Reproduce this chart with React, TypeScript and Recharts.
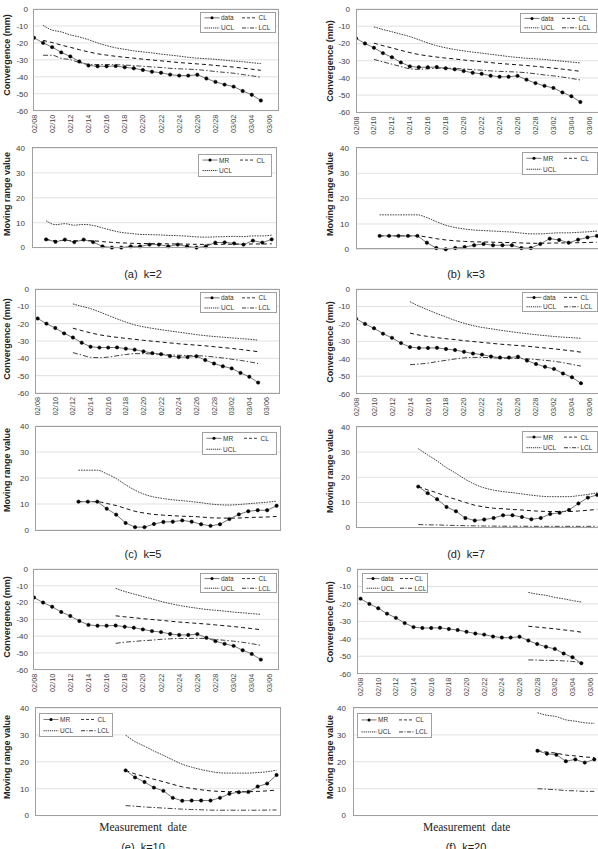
import React from 'react';
import { LineChart, Line, XAxis, YAxis, CartesianGrid } from 'recharts';

// ---------- data ----------
const dates = ['02/08','02/09','02/10','02/11','02/12','02/13','02/14','02/15','02/16','02/17','02/18','02/19','02/20','02/21','02/22','02/23','02/24','02/25','02/26','02/27','02/28','03/01','03/02','03/03','03/04','03/05'];
const dateTickLabels = ['02/08','02/10','02/12','02/14','02/16','02/18','02/20','02/22','02/24','02/26','02/28','03/02','03/04','03/06'];

const convergence = [-17, -20, -22.5, -25.6, -28, -31, -33.3, -33.8, -33.8, -33.7, -34.4, -35, -36, -37, -37.6, -38.7, -39.3, -39.3, -38.8, -41, -43, -44.6, -45.8, -48.4, -50.6, -54];
const convCL = [-17, -18.5, -19.8, -21.3, -22.6, -24.0, -25.3, -26.4, -27.2, -27.9, -28.5, -29.0, -29.6, -30.1, -30.6, -31.1, -31.6, -32.0, -32.4, -32.8, -33.3, -33.8, -34.3, -34.9, -35.5, -36.2];

// k = 2
const convUCL_k2 = [-9.7, -12.4, -13.5, -15.3, -16.5, -18.1, -20.0, -21.6, -22.9, -23.8, -24.7, -25.3, -25.9, -26.6, -27.2, -27.8, -28.5, -29.0, -29.3, -29.7, -30.2, -30.7, -31.1, -31.7, -32.2];
const convLCL_k2 = [-27.3, -27.3, -29.1, -29.9, -31.6, -32.6, -32.8, -32.8, -32.9, -33.1, -33.4, -33.8, -34.2, -34.5, -35.0, -35.3, -35.5, -35.8, -36.3, -36.9, -37.4, -37.9, -38.7, -39.4, -40.3];
const mr_k2 = [3.3, 2.3, 3.2, 2.2, 3.2, 2.2, 0.5, 0, 0, 0.5, 0.5, 1.2, 1.2, 0.5, 1.2, 0.5, 0, 0.5, 2, 2.1, 1.7, 1.2, 2.8, 2, 3.3];
const mrCL_k2 = [3.3, 2.8, 2.9, 2.75, 2.85, 2.75, 2.4, 2.1, 1.9, 1.75, 1.65, 1.6, 1.55, 1.5, 1.45, 1.4, 1.3, 1.3, 1.3, 1.35, 1.35, 1.35, 1.45, 1.45, 1.5];
const mrUCL_k2 = [10.8, 9.2, 9.6, 9.0, 9.3, 8.9, 7.9, 6.9, 6.1, 5.7, 5.3, 5.2, 5.1, 4.9, 4.8, 4.6, 4.3, 4.2, 4.3, 4.4, 4.5, 4.4, 4.7, 4.7, 5.0];

// k = 3
const convUCL_k3 = [-10.4, -11.9, -13.2, -14.6, -16.0, -17.8, -19.7, -21.3, -22.5, -23.5, -24.3, -25.0, -25.6, -26.3, -26.9, -27.6, -28.1, -28.6, -28.9, -29.3, -29.8, -30.3, -30.8, -31.3];
const convLCL_k3 = [-29.2, -30.7, -32.0, -33.4, -34.7, -35.0, -34.7, -34.4, -34.4, -34.5, -34.8, -35.2, -35.5, -35.9, -36.2, -36.4, -36.6, -37.0, -37.6, -38.3, -38.8, -39.5, -40.3, -41.2];
const mr_k3 = [5.3, 5.3, 5.3, 5.3, 5.3, 2.6, 0.5, 0, 0.5, 0.9, 1.6, 2.1, 1.6, 1.6, 1.6, 0.5, 0.5, 2.1, 4.2, 3.7, 2.6, 3.8, 4.7, 5.3];
const mrCL_k3 = [5.3, 5.3, 5.3, 5.3, 5.3, 4.85, 4.2, 3.7, 3.35, 3.1, 2.95, 2.9, 2.8, 2.7, 2.65, 2.5, 2.4, 2.35, 2.45, 2.5, 2.55, 2.6, 2.7, 2.8];
const mrUCL_k3 = [13.6, 13.6, 13.6, 13.6, 13.6, 12.5, 10.9, 9.5, 8.6, 8.0, 7.6, 7.4, 7.2, 7.0, 6.8, 6.4, 6.1, 6.1, 6.3, 6.5, 6.5, 6.7, 6.9, 7.2];

// k = 5
const convUCL_k5 = [-8.6, -10.0, -11.3, -13.2, -15.2, -17.2, -19.1, -20.7, -21.8, -22.7, -23.5, -24.2, -24.9, -25.6, -26.3, -26.9, -27.4, -27.8, -28.2, -28.6, -29.0, -29.5];
const convLCL_k5 = [-36.7, -38.1, -39.4, -39.6, -39.3, -38.5, -37.8, -37.3, -37.3, -37.5, -37.7, -38.0, -38.2, -38.4, -38.5, -38.7, -39.2, -39.8, -40.5, -41.2, -42.0, -43.0];
const mr_k5 = [10.9, 10.9, 10.9, 8.2, 5.9, 2.7, 1.1, 1.1, 2.3, 3.1, 3.2, 3.7, 3.2, 2.2, 1.6, 2.2, 4.2, 6, 7.2, 7.6, 7.6, 9.3];
const mrCL_k5 = [10.9, 10.9, 10.9, 10.2, 9.4, 8.3, 7.2, 6.5, 6.0, 5.7, 5.5, 5.3, 5.2, 5.0, 4.7, 4.6, 4.55, 4.6, 4.8, 4.9, 5.0, 5.2];
const mrUCL_k5 = [23.0, 23.0, 23.0, 21.6, 19.8, 17.4, 15.3, 13.7, 12.7, 12.1, 11.6, 11.3, 10.9, 10.5, 10.0, 9.7, 9.6, 9.8, 10.1, 10.4, 10.7, 11.1];

// k = 7
const convUCL_k7 = [-7.3, -9.8, -12.0, -14.1, -16.0, -18.0, -19.6, -21.0, -22.0, -22.8, -23.6, -24.3, -25.0, -25.6, -26.2, -26.7, -27.2, -27.6, -27.9, -28.3];
const convLCL_k7 = [-43.4, -43.0, -42.5, -41.6, -40.9, -40.1, -39.5, -39.2, -39.2, -39.4, -39.6, -39.7, -39.8, -40.0, -40.4, -40.9, -41.4, -42.2, -43.2, -44.2];
const mr_k7 = [16.3, 13.7, 11.3, 8.2, 6.5, 3.8, 2.8, 3.2, 3.8, 4.9, 4.9, 4.2, 3.3, 3.8, 5.4, 5.9, 7, 9.6, 11.9, 13];
const mrCL_k7 = [16.3, 15.0, 13.8, 12.4, 11.2, 10.0, 8.9, 8.2, 7.7, 7.5, 7.2, 7.0, 6.7, 6.5, 6.4, 6.4, 6.4, 6.6, 6.9, 7.2];
const mrUCL_k7 = [31.4, 28.9, 26.5, 23.8, 21.6, 19.2, 17.2, 15.8, 14.9, 14.3, 13.9, 13.4, 12.9, 12.5, 12.3, 12.3, 12.3, 12.7, 13.2, 13.8];
const mrLCL_k7 = [1.2, 1.1, 1.05, 0.95, 0.85, 0.75, 0.7, 0.65, 0.6, 0.55, 0.55, 0.55, 0.5, 0.5, 0.5, 0.5, 0.5, 0.5, 0.5, 0.55];

// k = 10
const convUCL_k10 = [-11.5, -13.4, -14.9, -16.4, -17.8, -19.3, -20.6, -21.7, -22.6, -23.4, -24.1, -24.6, -25.1, -25.7, -26.1, -26.6, -27.0];
const convLCL_k10 = [-44.3, -43.6, -43.2, -42.7, -42.4, -41.9, -41.6, -41.4, -41.4, -41.3, -41.5, -42.0, -42.5, -43.0, -43.7, -44.5, -45.5];
const mr_k10 = [16.8, 14.2, 12.5, 10.4, 9.2, 6.6, 5.5, 5.6, 5.6, 5.6, 6.6, 8.1, 8.7, 8.8, 10.8, 11.9, 15.1];
const mrCL_k10 = [16.8, 15.5, 14.5, 13.5, 12.6, 11.6, 10.7, 10.1, 9.6, 9.2, 9.0, 8.9, 8.9, 8.9, 9.0, 9.2, 9.5];
const mrUCL_k10 = [29.9, 27.5, 25.8, 24.0, 22.4, 20.7, 19.1, 18.0, 17.1, 16.4, 15.9, 15.8, 15.8, 15.8, 16.0, 16.3, 16.9];
const mrLCL_k10 = [3.7, 3.5, 3.2, 3.0, 2.8, 2.6, 2.4, 2.25, 2.15, 2.05, 2.0, 2.0, 2.0, 2.0, 2.0, 2.05, 2.1];

// k = 20
const convUCL_k20 = [-13.4, -14.4, -15.1, -16.3, -17.1, -18.1, -18.9];
const convLCL_k20 = [-52.1, -52.2, -52.4, -52.4, -52.7, -53.0, -53.6];
const mr_k20 = [24.1, 23, 22.6, 20.2, 20.9, 19.7, 20.9];
const mrCL_k20 = [24.1, 23.6, 23.2, 22.5, 22.2, 21.8, 21.6];
const mrUCL_k20 = [38.2, 37.3, 36.8, 35.6, 35.1, 34.5, 34.3];
const mrLCL_k20 = [10.0, 9.8, 9.6, 9.3, 9.2, 9.0, 9.0];

// ---------- helpers ----------
const N = dates.length;
const alignTail = (arr: number[] | undefined) => {
  if (!arr) return dates.map(() => null);
  const off = N - arr.length;
  return dates.map((_, i) => (i >= off ? arr[i - off] : null));
};

function convRows(ucl: number[], lcl: number[]) {
  const off = N - ucl.length;
  const u = alignTail(ucl);
  const l = alignTail(lcl);
  return dates.map((d, i) => ({
    day: i,
    date: d,
    data: convergence[i],
    cl: i >= off ? convCL[i] : null,
    ucl: u[i],
    lcl: l[i],
  }));
}

function mrRows(mr: number[], cl: number[], ucl: number[], lcl?: number[]) {
  const m = alignTail(mr);
  const c = alignTail(cl);
  const u = alignTail(ucl);
  const l = alignTail(lcl);
  return dates.map((d, i) => ({ day: i, date: d, mr: m[i], cl: c[i], ucl: u[i], lcl: l[i] }));
}

const FONT = '"Liberation Sans", Arial, sans-serif';
const TICK_COLOR = '#404040';
const BORDER = '#a0a0a0';
const GRID = '#d9d9d9';

const convTicks = dateTickLabels.map((_, j) => j * 2);
const mrTicks = Array.from({ length: N + 1 }, (_, j) => j - 0.5);

const DateTick = (props: any) => {
  const { x, y, payload } = props;
  const label = dateTickLabels[Math.round(payload.value / 2)] ?? '';
  return (
    <text x={x} y={y} transform={`rotate(-90 ${x} ${y})`} textAnchor="end" dominantBaseline="central"
      fontSize={7.3} fill={TICK_COLOR} fontFamily={FONT}>{label}</text>
  );
};
const EmptyTick = () => <g />;

type Rect = { left: number; top: number; w: number; h: number };

function PlotBorder({ rect }: { rect: Rect }) {
  return (
    <div style={{ position: 'absolute', left: rect.left - 0.5, top: rect.top - 0.5, width: rect.w + 1, height: rect.h + 1, border: `1px solid ${BORDER}`, boxSizing: 'border-box', pointerEvents: 'none' }} />
  );
}

function ConvChart({ rect, rows, domain }: { rect: Rect; rows: any[]; domain: [number, number] }) {
  const PL = 34, PT = 6, PR = 4, PB = 34;
  return (
    <>
      <div style={{ position: 'absolute', left: rect.left - PL, top: rect.top - PT }}>
        <LineChart width={PL + rect.w + PR} height={PT + rect.h + PB} data={rows}
          margin={{ top: PT, right: PR, bottom: 0, left: 0 }}>
          <CartesianGrid vertical={false} stroke={GRID} strokeWidth={0.8} />
          <XAxis type="number" dataKey="day" domain={domain} ticks={convTicks} tick={<DateTick />}
            tickLine={false} axisLine={false} tickSize={0} tickMargin={4} height={PB} allowDataOverflow interval={0} />
          <YAxis type="number" domain={[-60, 0]} ticks={[-60, -50, -40, -30, -20, -10, 0]} width={PL}
            tick={{ fontSize: 8, fill: TICK_COLOR, fontFamily: FONT }} tickLine={false} axisLine={false}
            tickSize={0} tickMargin={6} interval={0} />
          <Line dataKey="ucl" type="monotone" stroke="#404040" strokeWidth={1} strokeDasharray="1.6 1" dot={false} isAnimationActive={false} />
          <Line dataKey="cl" type="monotone" stroke="#111" strokeWidth={1} strokeDasharray="4 3" dot={false} isAnimationActive={false} />
          <Line dataKey="lcl" type="monotone" stroke="#404040" strokeWidth={1} strokeDasharray="5 2 1.5 2" dot={false} isAnimationActive={false} />
          <Line dataKey="data" type="linear" stroke="#666" strokeWidth={0.9}
            dot={{ r: 1.7, fill: '#000', stroke: '#000', strokeWidth: 0.5 }} isAnimationActive={false} />
        </LineChart>
      </div>
      <PlotBorder rect={rect} />
    </>
  );
}

function MRChart({ rect, rows, hasLcl }: { rect: Rect; rows: any[]; hasLcl: boolean }) {
  const PL = 34, PT = 6, PR = 4, PB = 6;
  return (
    <>
      <div style={{ position: 'absolute', left: rect.left - PL, top: rect.top - PT }}>
        <LineChart width={PL + rect.w + PR} height={PT + rect.h + PB} data={rows}
          margin={{ top: PT, right: PR, bottom: PB, left: 0 }}>
          <CartesianGrid vertical={false} stroke={GRID} strokeWidth={0.8} />
          <XAxis orientation="top" type="number" dataKey="day" domain={[-0.5, N - 0.5]} ticks={mrTicks}
            tick={EmptyTick} tickSize={-2.5} tickLine={{ stroke: '#707070', strokeWidth: 0.8 }} axisLine={false}
            height={0} allowDataOverflow interval={0} />
          <YAxis type="number" domain={[0, 40]} ticks={[0, 10, 20, 30, 40]} width={PL}
            tick={{ fontSize: 8, fill: TICK_COLOR, fontFamily: FONT }} tickLine={false} axisLine={false}
            tickSize={0} tickMargin={7} interval={0} />
          <Line dataKey="ucl" type="monotone" stroke="#404040" strokeWidth={1} strokeDasharray="1.6 1" dot={false} isAnimationActive={false} />
          <Line dataKey="cl" type="monotone" stroke="#111" strokeWidth={1} strokeDasharray="4 3" dot={false} isAnimationActive={false} />
          {hasLcl && (
            <Line dataKey="lcl" type="monotone" stroke="#404040" strokeWidth={1} strokeDasharray="5 2 1.5 2" dot={false} isAnimationActive={false} />
          )}
          <Line dataKey="mr" type="linear" stroke="#666" strokeWidth={0.9}
            dot={{ r: 1.7, fill: '#000', stroke: '#000', strokeWidth: 0.5 }} isAnimationActive={false} />
        </LineChart>
      </div>
      <PlotBorder rect={rect} />
    </>
  );
}

function Sample({ kind, x, y, L }: { kind: string; x: number; y: number; L: number }) {
  if (kind === 'data' || kind === 'MR') {
    return (
      <g>
        <line x1={x} x2={x + L} y1={y} y2={y} stroke="#555" strokeWidth={0.8} />
        <circle cx={x + L / 2} cy={y} r={1.5} fill="#000" />
      </g>
    );
  }
  const dash = kind === 'CL' ? '3 2' : kind === 'UCL' ? '1.3 0.8' : '4 1.5 1 1.5';
  return <line x1={x} x2={x + L} y1={y} y2={y} stroke="#222" strokeWidth={0.9} strokeDasharray={dash} />;
}

function LegendBox({ left, top, w, h, items, col2 = 42, L = 15 }: { left: number; top: number; w: number; h: number; items: string[]; col2?: number; L?: number }) {
  const pos = [
    { x: 4.5, y: h * 0.27 },
    { x: col2, y: h * 0.27 },
    { x: 4.5, y: h * 0.74 },
    { x: col2, y: h * 0.74 },
  ];
  return (
    <div style={{ position: 'absolute', left, top, width: w, height: h, border: `1px solid ${BORDER}`, background: '#fff', boxSizing: 'border-box' }}>
      <svg width={w} height={h} style={{ position: 'absolute', left: -1, top: -1 }}>
        {items.map((it, i) => (
          <g key={it}>
            <Sample kind={it} x={pos[i].x} y={pos[i].y} L={L} />
            <text x={pos[i].x + L + 1.5} y={pos[i].y} dominantBaseline="central" fontSize={6.5} fill="#333" fontFamily={FONT}>{it}</text>
          </g>
        ))}
      </svg>
    </div>
  );
}

function VTitle({ cx, cy, text }: { cx: number; cy: number; text: string }) {
  return (
    <div style={{ position: 'absolute', left: cx, top: cy, transform: 'translate(-50%, -50%) rotate(-90deg)', whiteSpace: 'nowrap', fontFamily: FONT, fontWeight: 'bold', fontSize: 9, color: '#222', lineHeight: 1 }}>{text}</div>
  );
}

function Caption({ cx, cy, text, serif }: { cx: number; cy: number; text: string; serif?: boolean }) {
  return (
    <div style={{ position: 'absolute', left: cx, top: cy, transform: 'translate(-50%, -50%)', whiteSpace: 'pre', fontFamily: serif ? '"Liberation Serif", "Times New Roman", serif' : FONT, fontSize: serif ? 11.5 : 11, color: '#222', lineHeight: 1 }}>{text}</div>
  );
}

const convLegend = ['data', 'CL', 'UCL', 'LCL'];

export default function App() {
  return (
    <div style={{ position: 'absolute', left: 0, top: 0, width: 598, height: 849, overflow: 'hidden', background: '#fff' }}>
      {/* (a) k=2 */}
      <ConvChart rect={{ left: 33.7, top: 9.3, w: 245, h: 101.7 }} rows={convRows(convUCL_k2, convLCL_k2)} domain={[0, 27]} />
      <LegendBox left={200} top={11.7} w={76} h={21.6} items={convLegend} />
      <VTitle cx={7} cy={55} text="Convergence (mm)" />
      <MRChart rect={{ left: 32.3, top: 147.7, w: 244.4, h: 99.6 }} rows={mrRows(mr_k2, mrCL_k2, mrUCL_k2)} hasLcl={false} />
      <LegendBox left={198.3} top={154.3} w={73.4} h={22.4} items={['MR', 'CL', 'UCL']} />
      <VTitle cx={6.5} cy={194} text="Moving range value" />
      <Caption cx={143} cy={274} text={'(a)  k=2'} />

      {/* (b) k=3 */}
      <ConvChart rect={{ left: 356, top: 9.3, w: 242.3, h: 103.4 }} rows={convRows(convUCL_k3, convLCL_k3)} domain={[0, 27]} />
      <LegendBox left={520} top={12.7} w={77} h={20} items={convLegend} />
      <VTitle cx={330} cy={61} text="Convergence (mm)" />
      <MRChart rect={{ left: 356.4, top: 147.7, w: 245.7, h: 101.3 }} rows={mrRows(mr_k3, mrCL_k3, mrUCL_k3)} hasLcl={false} />
      <LegendBox left={521.7} top={151.7} w={76} h={23.3} items={['MR', 'CL', 'UCL']} />
      <VTitle cx={330} cy={194} text="Moving range value" />
      <Caption cx={466} cy={274} text={'(b)  k=3'} />

      {/* (c) k=5 */}
      <ConvChart rect={{ left: 35, top: 289.3, w: 244.3, h: 104 }} rows={convRows(convUCL_k5, convLCL_k5)} domain={[-0.3, 27.4]} />
      <LegendBox left={200} top={291.7} w={76.7} h={21.6} items={convLegend} />
      <VTitle cx={7} cy={339} text="Convergence (mm)" />
      <MRChart rect={{ left: 35.7, top: 426, w: 245.3, h: 104 }} rows={mrRows(mr_k5, mrCL_k5, mrUCL_k5)} hasLcl={false} />
      <LegendBox left={201.7} top={431.7} w={75} h={23.3} items={['MR', 'CL', 'UCL']} />
      <VTitle cx={7} cy={470} text="Moving range value" />
      <Caption cx={143} cy={554} text={'(c)  k=5'} />

      {/* (d) k=7 */}
      <ConvChart rect={{ left: 356.3, top: 289.3, w: 243, h: 104.7 }} rows={convRows(convUCL_k7, convLCL_k7)} domain={[0, 27]} />
      <LegendBox left={521.7} top={292.3} w={76} h={20} items={convLegend} />
      <VTitle cx={330} cy={342} text="Convergence (mm)" />
      <MRChart rect={{ left: 356.7, top: 426.7, w: 245, h: 100.6 }} rows={mrRows(mr_k7, mrCL_k7, mrUCL_k7, mrLCL_k7)} hasLcl={true} />
      <LegendBox left={521.7} top={430.7} w={76} h={22.6} items={['MR', 'CL', 'UCL', 'LCL']} />
      <VTitle cx={330} cy={471} text="Moving range value" />
      <Caption cx={466} cy={554} text={'(d)  k=7'} />

      {/* (e) k=10 */}
      <ConvChart rect={{ left: 33.7, top: 569.3, w: 245, h: 100.7 }} rows={convRows(convUCL_k10, convLCL_k10)} domain={[0, 27]} />
      <LegendBox left={200} top={572.7} w={76.7} h={20.6} items={convLegend} />
      <VTitle cx={7} cy={617} text="Convergence (mm)" />
      <MRChart rect={{ left: 35.7, top: 707.7, w: 245.3, h: 107.6 }} rows={mrRows(mr_k10, mrCL_k10, mrUCL_k10, mrLCL_k10)} hasLcl={true} />
      <LegendBox left={39.3} top={712.7} w={74} h={24} items={['MR', 'CL', 'UCL', 'LCL']} />
      <VTitle cx={7} cy={757} text="Moving range value" />
      <Caption cx={143} cy={828} text="Measurement  date" serif />
      <Caption cx={143} cy={847} text={'(e)  k=10'} />

      {/* (f) k=20 */}
      <ConvChart rect={{ left: 357.3, top: 569.3, w: 242, h: 104.7 }} rows={convRows(convUCL_k20, convLCL_k20)} domain={[-0.4, 27]} />
      <LegendBox left={361.7} top={572.7} w={66.6} h={20.6} items={convLegend} col2={38} L={13} />
      <VTitle cx={330} cy={622} text="Convergence (mm)" />
      <MRChart rect={{ left: 353.3, top: 707.7, w: 246, h: 107.6 }} rows={mrRows(mr_k20, mrCL_k20, mrUCL_k20, mrLCL_k20)} hasLcl={true} />
      <LegendBox left={357.3} top={712.7} w={74.4} h={25.6} items={['MR', 'CL', 'UCL', 'LCL']} />
      <VTitle cx={330} cy={757} text="Moving range value" />
      <Caption cx={466.7} cy={828} text="Measurement  date" serif />
      <Caption cx={466} cy={847} text={'(f)  k=20'} />
    </div>
  );
}
